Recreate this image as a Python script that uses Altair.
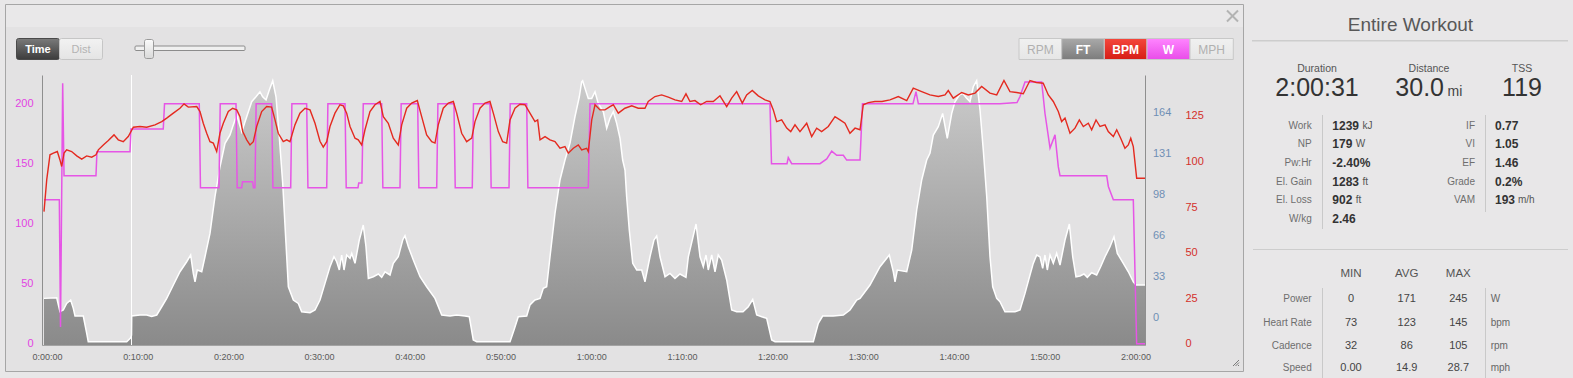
import altair as alt
import pandas as pd

FONT = "Liberation Sans"

# ---------------- data ----------------
# time in minutes
power_t = [0.00, 1.69, 1.82, 2.06, 2.21, 5.73, 5.84, 9.48, 9.59, 13.15, 13.29, 17.12, 17.25, 19.29, 19.43,
           21.17, 21.30, 21.80, 21.89, 22.99, 23.10, 23.26, 23.39, 25.10, 25.24, 27.20, 27.33, 28.96, 29.10,
           31.17, 31.30, 33.19, 33.32, 34.62, 34.70, 35.05, 35.20, 37.23, 37.36, 39.25, 39.38, 41.20, 41.33,
           43.30, 43.43, 45.20, 45.34, 47.22, 47.35, 49.17, 49.30, 51.27, 51.40, 53.22, 53.35, 60.01, 60.20,
           80.04, 80.21, 81.92, 82.06, 82.44, 85.56, 86.30, 86.85, 87.40, 88.13, 88.50, 89.97, 90.24, 95.81,
           96.14, 96.40, 105.40, 107.28, 107.61, 108.16, 110.00, 110.36, 110.92, 111.47, 111.83, 112.02,
           117.17, 117.35, 117.90, 120.10, 120.47, 121.39]
power_w = [120, 120, 14, 217, 140, 140, 160, 160, 179, 179,
           200, 200, 130, 130, 200, 200, 130, 130, 135, 135,
           130, 130, 200, 200, 130, 130, 200, 200, 130, 130,
           200, 200, 130, 130, 134, 134, 200, 200, 130, 130,
           200, 200, 130, 130, 200, 200, 130, 130, 200, 200,
           130, 130, 200, 200, 130, 130, 200, 200, 150, 150,
           155, 150, 150, 154, 160.5, 157, 157, 153, 153, 200,
           200, 210, 200, 200, 201, 206, 218, 218, 192, 163,
           174, 147.5, 140, 140, 131, 120, 120, 0, 0]

hr_t = [0.00, 0.30, 0.66, 1.03, 1.47, 1.76, 1.95, 2.21, 2.50, 3.05,
        3.61, 4.16, 4.71, 5.26, 5.73, 5.99, 6.54, 7.09, 7.72, 8.19,
        8.74, 9.29, 9.85, 10.58, 11.32, 12.24, 12.98, 13.53, 14.26, 14.99,
        15.44, 15.91, 16.84, 17.20, 17.56, 17.94, 18.30, 18.67, 19.04, 19.40,
        19.77, 20.32, 20.80, 21.25, 21.61, 21.91, 22.35, 22.71, 23.08, 23.45,
        24.00, 24.55, 25.10, 25.47, 25.83, 26.38, 26.76, 27.12, 27.67, 28.22,
        28.78, 29.33, 29.88, 30.43, 30.79, 31.17, 31.53, 32.08, 32.63, 33.00,
        33.37, 33.74, 34.29, 34.65, 35.03, 35.39, 35.94, 36.49, 37.05, 37.41,
        37.96, 38.51, 39.06, 39.44, 39.99, 40.54, 41.16, 41.64, 42.19, 42.75,
        43.11, 43.47, 44.02, 44.58, 45.13, 45.50, 46.05, 46.60, 47.16, 47.52,
        48.07, 48.62, 49.17, 49.54, 50.09, 50.57, 51.01, 51.38, 51.93, 52.48,
        53.03, 53.58, 54.13, 54.43, 54.69, 55.24, 55.79, 56.34, 56.89, 57.44,
        57.81, 58.36, 58.91, 59.28, 59.83, 60.01, 60.39, 60.75, 61.30, 61.85,
        62.40, 62.77, 63.32, 64.05, 64.80, 65.52, 66.26, 66.62, 67.36, 68.10,
        68.83, 69.57, 70.31, 70.78, 71.22, 71.77, 72.40, 73.06, 73.79, 74.53,
        75.27, 75.82, 76.37, 76.99, 77.47, 78.09, 78.75, 79.49, 80.04, 80.41,
        80.78, 81.33, 81.89, 82.33, 82.80, 83.35, 84.09, 84.64, 85.19, 85.74,
        86.47, 87.21, 87.76, 88.31, 88.86, 89.42, 89.97, 90.33, 90.88, 91.62,
        92.39, 93.27, 94.19, 95.12, 95.84, 96.77, 97.68, 98.60, 99.34, 99.70,
        100.25, 101.18, 101.91, 102.65, 103.38, 104.30, 105.04, 105.84, 106.50, 107.24,
        107.97, 108.71, 109.40, 110.17, 110.73, 111.28, 111.83, 112.20, 112.57, 113.12,
        113.67, 114.15, 114.59, 115.14, 115.51, 115.99, 116.43, 116.98, 117.34, 117.90,
        118.27, 118.71, 119.18, 119.55, 119.82, 120.10, 120.47, 121.39]
hr_bpm = [72.5, 89.9, 103.6, 104.5, 105.4, 100.8, 97.2, 104.5, 106.3, 105.4,
          103, 101.2, 103, 102.3, 103.6, 106.3, 109, 111.4, 114.5, 111.8,
          110.8, 113.6, 118.7, 119.1, 118.7, 120, 121.8, 123.7, 126.4, 129.1,
          131.5, 129.7, 130, 127.3, 120.9, 115.4, 110.8, 110, 105.4, 115.4,
          120.9, 127.3, 129.1, 128.2, 124.5, 116.3, 111.8, 109, 110.8, 119.1,
          127.3, 130, 129.7, 122.7, 115.4, 110.8, 111.8, 110.8, 120, 126.4,
          129.1, 128.2, 120.9, 111, 107.8, 110.8, 119.1, 126.4, 131, 130.4,
          126.4, 119.1, 112.7, 111.8, 109, 117.3, 127.3, 131, 132.8, 124.5,
          120.9, 112.7, 109, 120, 129.1, 131.9, 133.3, 124.5, 114.5, 110.8,
          110, 120, 129.1, 131.9, 132.8, 126.4, 115.4, 110.8, 112.7, 121.8,
          129.1, 131.9, 132.8, 126.4, 116.3, 110.8, 110, 122.7, 129.1, 131.3,
          131, 126.4, 121.8, 122.7, 111.8, 113.6, 111.8, 110.8, 107.2, 108.1,
          104.5, 107.2, 109, 106.3, 107.2, 105.4, 122.7, 131, 128.2, 128.2,
          130, 131, 126.4, 129.1, 130.4, 129.1, 129.1, 132.8, 135.5, 136.4,
          135.2, 133.7, 132.8, 137, 132.8, 133.3, 131, 132.8, 132.8, 135.9,
          130, 134.6, 138.2, 131.9, 136.4, 138.8, 135.9, 133.7, 132.8, 128.2,
          121.8, 122.7, 118.2, 116.3, 120, 116.3, 120.9, 113.6, 118.2, 116.3,
          119.1, 124.5, 122.7, 120.9, 115.4, 118.2, 117.3, 131, 132.2, 132.8,
          132.8, 133.7, 135.5, 133.3, 140.1, 138.2, 136.4, 135.5, 136.4, 138.8,
          134.6, 137.7, 136.4, 137.4, 141, 137.4, 136.4, 144.3, 138.2, 137.7,
          137, 144.3, 143.2, 142.8, 136.4, 132.8, 127.3, 121.8, 123.7, 115.4,
          118.2, 122.7, 119.1, 120.9, 117.3, 122.7, 119.1, 120, 116.3, 113.6,
          117.3, 112.7, 107.2, 109, 112.7, 108.1, 90.8, 90.8]

elev_t = [0.00, 1.40, 1.76, 2.13, 2.50, 2.94, 3.23, 3.42, 4.33, 4.71,
          4.88, 9.12, 9.56, 9.65, 9.67, 10.58, 11.32, 11.87, 12.43, 12.98,
          13.53, 14.26, 14.99, 15.73, 16.17, 16.46, 16.65, 16.90, 17.39, 17.75,
          18.30, 18.85, 19.40, 19.96, 20.51, 20.80, 21.25, 21.80, 22.35, 22.90,
          23.37, 23.81, 24.11, 24.48, 24.84, 25.22, 25.58, 25.94, 26.32, 26.68,
          26.94, 27.49, 28.04, 28.41, 29.33, 29.88, 30.43, 30.98, 31.53, 31.97,
          32.27, 32.56, 32.82, 33.08, 33.37, 33.74, 33.93, 34.29, 34.76, 35.20,
          35.50, 35.76, 36.31, 36.86, 37.23, 37.60, 38.15, 38.51, 39.06, 39.55,
          39.80, 40.17, 40.72, 41.46, 42.19, 43.11, 43.85, 44.76, 45.50, 46.42,
          46.89, 47.33, 47.71, 51.38, 51.82, 52.29, 53.22, 53.58, 54.13, 54.69,
          55.05, 55.42, 55.79, 56.34, 56.89, 57.44, 57.99, 58.54, 59.02, 59.28,
          59.39, 59.65, 60.01, 60.39, 60.75, 61.11, 61.67, 62.04, 62.40, 62.77,
          63.14, 63.51, 63.80, 64.06, 64.24, 64.53, 64.91, 65.35, 65.90, 66.26,
          66.81, 67.25, 67.55, 67.92, 68.47, 69.02, 69.57, 70.12, 70.78, 71.04,
          71.52, 71.89, 72.33, 72.69, 72.99, 73.24, 73.62, 73.98, 74.34, 74.72,
          75.27, 75.82, 76.37, 77.07, 77.65, 78.14, 78.58, 79.13, 79.68, 80.23,
          80.60, 84.82, 85.37, 85.85, 87.02, 88.13, 88.86, 89.60, 89.97, 91.07,
          92.17, 93.20, 93.64, 93.83, 94.08, 95.12, 95.67, 96.22, 96.77, 97.32,
          97.68, 98.05, 98.60, 99.08, 99.59, 100.08, 100.44, 100.92, 101.29, 101.73,
          102.09, 102.46, 102.83, 103.20, 103.56, 103.94, 104.30, 104.60, 105.04, 105.40,
          105.95, 107.06, 107.61, 108.16, 108.71, 109.07, 109.45, 109.81, 110.11, 110.36,
          110.62, 110.92, 111.28, 111.65, 112.02, 112.57, 113.05, 113.42, 113.78, 114.22,
          114.66, 115.03, 115.51, 116.06, 116.50, 116.98, 117.53, 117.97, 118.34, 119.00,
          119.55, 120.10, 120.40, 121.39]
elev_ft = [15.5, 16, 4.8, 6.2, 11.5, 14.2, 7.5, 1.4, 1.4, -12.5,
           -19.2, -19.2, -16, -14, 1.4, 2.2, 2.2, 1.0, 2.2, 8.8,
           15.5, 26.2, 36.8, 44.8, 50.2, 35.5, 28.8, 38.2, 36.8, 48.8,
           67.5, 96.8, 120.8, 139.5, 146.2, 152.8, 162.2, 148.8, 160.8, 172.8,
           176.8, 180.8, 176.8, 174.2, 182.2, 189.6, 176.8, 144.8, 107.5, 59.5,
           24.8, 14.2, 11.5, 4.8, 4.0, 6.2, 14.2, 27.5, 40.8, 48.8,
           44.8, 38.2, 50.2, 38.2, 50.2, 47.5, 51.5, 43.5, 62.2, 74.2,
           56.8, 31.5, 32.8, 35.0, 32.3, 36.8, 34.2, 43.5, 48.8, 62.2,
           65.6, 56.8, 46.2, 32.8, 24.8, 15.5, 2.2, 1.4, 2.2, 1.4,
           0.8, -17.8, -19.2, -19.2, -9.8, 0.8, 1.4, 10.2, 14.2, 15.5,
           23.5, 24.8, 48.8, 83.5, 110.2, 126.2, 139.5, 160.8, 176.8, 188.8,
           189.6, 183.5, 175.5, 175.5, 180.8, 171.5, 164.8, 151.5, 159.5, 164.8,
           155.5, 143.5, 126.2, 118.2, 96.8, 70.2, 43.5, 38.2, 38.2, 28.8,
           48.8, 62.2, 65.4, 48.8, 32.8, 35.5, 31.5, 35.0, 32.3, 48.8,
           63.5, 75.0, 48.8, 40.8, 50.2, 38.2, 50.2, 36.8, 50.2, 46.2,
           30.2, 6.2, 4.8, 4.8, 8.8, 14.7, 2.2, 0.8, -0.5, -17.8,
           -19.2, -19.2, -4.5, 1.4, 1.4, 2.2, 6.2, 14.2, 15.5, 26.2,
           40.8, 50.2, 36.8, 28.8, 38.2, 36.8, 54.2, 86.2, 110.2, 126.2,
           131.5, 146.2, 152.8, 163.5, 143.5, 163.5, 172.8, 178.2, 179.5, 175.5,
           172.8, 184.8, 189.6, 166.2, 134.2, 96.8, 48.8, 24.8, 15.5, 12.8,
           4.8, 4.8, 6.2, 19.5, 34.2, 43.5, 50.2, 48.8, 39.5, 50.2,
           38.2, 50.2, 43.5, 51.5, 42.2, 62.2, 75.0, 48.8, 32.8, 33.4,
           35.0, 32.3, 36.0, 34.2, 40.8, 48.8, 56.8, 64.8, 51.5, 43.5,
           36.8, 28.8, 26.2, 26.2]

lap_marker_t = [9.65]

time_ticks = [0, 10, 20, 30, 40, 50, 60, 70, 80, 90, 100, 110, 120]
power_ticks = [0, 50, 100, 150, 200]
elev_ticks = [0, 32.8, 65.6, 98.4, 131.2, 164]
hr_ticks = [0, 25, 50, 75, 100, 125]

X_DOMAIN = [-0.22, 121.39]
W_DOMAIN = [-1.1, 223.9]
FT_DOMAIN = [-21.8, 194.2]
HR_DOMAIN = [-0.55, 147.3]

mode_buttons = ["Time", "Dist"]
series_buttons = ["RPM", "FT", "BPM", "W", "MPH"]
panel_title = "Entire Workout"
summary_labels = ["Duration", "Distance", "TSS"]
summary_values = ["2:00:31", "30.0", "119"]
summary_units = ["", "mi", ""]
left_stat_labels = ["Work", "NP", "Pw:Hr", "El. Gain", "El. Loss", "W/kg"]
left_stat_values = ["1239", "179", "-2.40%", "1283", "902", "2.46"]
left_stat_units = ["kJ", "W", "", "ft", "ft", ""]
right_stat_labels = ["IF", "VI", "EF", "Grade", "VAM"]
right_stat_values = ["0.77", "1.05", "1.46", "0.2%", "193"]
right_stat_units = ["", "", "", "", "m/h"]
table_cols = ["MIN", "AVG", "MAX"]
table_rows = ["Power", "Heart Rate", "Cadence", "Speed"]
table_min = ["0", "73", "32", "0.00"]
table_avg = ["171", "123", "86", "14.9"]
table_max = ["245", "145", "105", "28.7"]
table_units = ["W", "bpm", "rpm", "mph"]

# ---------------- helpers for the surrounding UI ----------------
OX, OY = 42, 75          # plot origin on the page
PLOT_W, PLOT_H = 1103, 270
ONE = alt.InlineData(values=[{"k": 0}])


def grad(top, bottom):
    return {"gradient": "linear", "x1": 0, "x2": 0, "y1": 0, "y2": 1,
            "stops": [{"offset": 0, "color": top}, {"offset": 1, "color": bottom}]}


def box(x1, y1, x2, y2, fill, stroke=None, radius=0, sw=1):
    kw = {"fill": fill, "cornerRadius": radius}
    if stroke:
        kw.update(stroke=stroke, strokeWidth=sw)
    return alt.Chart(ONE).mark_rect(**kw).encode(
        x=alt.value(x1 - OX), x2=alt.value(x2 - OX),
        y=alt.value(y1 - OY), y2=alt.value(y2 - OY))


def seg(x1, y1, x2, y2, color, sw=1):
    return alt.Chart(ONE).mark_rule(color=color, strokeWidth=sw).encode(
        x=alt.value(x1 - OX), x2=alt.value(x2 - OX),
        y=alt.value(y1 - OY), y2=alt.value(y2 - OY))


def label(s, x, y, size, color, align="left", weight="normal", baseline="middle"):
    return alt.Chart(ONE).mark_text(text=s, fontSize=size, color=color, align=align,
                                    fontWeight=weight, baseline=baseline, font=FONT).encode(
        x=alt.value(x - OX), y=alt.value(y - OY))


BOLD_W = {".": 0.278, "-": 0.333, "%": 0.889}


def bold_width(s, size):
    return sum(BOLD_W.get(c, 0.556) for c in s) * size


ui = []
# chart panel
ui.append(box(5.5, 4.5, 1243.5, 371.5, "#e3e2e3", "#a6a6a6"))
ui.append(box(6, 5, 1243, 27, "#e9e8e9"))
ui.append(seg(1227, 10.5, 1238, 21.5, "#b3b3b3", 2))
ui.append(seg(1238, 10.5, 1227, 21.5, "#b3b3b3", 2))
# Time / Dist toggle
ui.append(box(16.5, 38.5, 59.5, 59.5, grad("#7a7a7a", "#3c3c3c"), "#4a4a4a", 2))
ui.append(box(59.5, 38.5, 102.5, 59.5, grad("#f2f2f2", "#e4e4e4"), "#c6c6c6", 2))
ui.append(label(mode_buttons[0], 38, 49.5, 11, "#ffffff", "center", "bold"))
ui.append(label(mode_buttons[1], 81, 49.5, 11, "#b3b3b3", "center"))
# zoom slider
ui.append(box(135, 46, 245, 50.5, "#f0f0f0", "#8c8c8c", 1))
ui.append(box(144.5, 39.5, 153.5, 58.5, grad("#fbfbfb", "#d9d9d9"), "#9a9a9a", 2))
# series buttons
edges = [1019, 1061.7, 1104.3, 1147, 1190, 1233.3]
fills = [grad("#f0f0f0", "#e6e6e6"), grad("#a9a9a9", "#7c7c7c"), grad("#f4473c", "#d61d15"),
         grad("#ff85ff", "#e94ce9"), grad("#f0f0f0", "#e6e6e6")]
tcolors = ["#b0b0b0", "#ffffff", "#ffffff", "#ffffff", "#b0b0b0"]
tweights = ["normal", "bold", "bold", "bold", "normal"]
for i, name in enumerate(series_buttons):
    ui.append(box(edges[i], 38.5, edges[i + 1], 59.5, fills[i], "#c8c8c8"))
    ui.append(label(name, (edges[i] + edges[i + 1]) / 2, 49.5, 12, tcolors[i], "center", tweights[i]))
# resize grip
ui.append(seg(1233, 366, 1239, 360, "#7a7a7a"))
ui.append(seg(1235.5, 366, 1239, 362.5, "#7a7a7a"))
ui.append(seg(1238, 366, 1239, 365, "#7a7a7a"))

# right summary panel
ui.append(label(panel_title, 1410.5, 31, 19, "#585858", "center", baseline="alphabetic"))
ui.append(seg(1252, 40.5, 1568, 40.5, "#cdcdcd"))
ui.append(seg(1252, 41.5, 1568, 41.5, "#dadada"))
centers = [1317, 1429, 1522]
for i, name in enumerate(summary_labels):
    ui.append(label(name, centers[i], 69, 10.5, "#555555", "center"))
    if summary_units[i]:
        ui.append(label(summary_values[i], centers[i] + 15, 95.7, 25, "#333333", "right", baseline="alphabetic"))
        ui.append(label(summary_units[i], centers[i] + 18.5, 95.7, 14, "#444444", "left", baseline="alphabetic"))
    else:
        ui.append(label(summary_values[i], centers[i], 95.7, 25, "#333333", "center", baseline="alphabetic"))

row_y = [125.7 + 18.65 * i for i in range(6)]
for i, name in enumerate(left_stat_labels):
    ui.append(label(name, 1311.7, row_y[i], 10, "#6e6e6e", "right"))
    ui.append(label(left_stat_values[i], 1332.3, row_y[i], 12, "#333333", "left", "bold"))
    if left_stat_units[i]:
        ui.append(label(left_stat_units[i], 1332.3 + bold_width(left_stat_values[i], 12) + 3.5,
                        row_y[i], 10, "#555555"))
for i, name in enumerate(right_stat_labels):
    ui.append(label(name, 1475, row_y[i], 10, "#6e6e6e", "right"))
    ui.append(label(right_stat_values[i], 1495, row_y[i], 12, "#333333", "left", "bold"))
    if right_stat_units[i]:
        ui.append(label(right_stat_units[i], 1495 + bold_width(right_stat_values[i], 12) + 3,
                        row_y[i], 10, "#555555"))
ui.append(seg(1322.5, 115, 1322.5, 229, "#c9c9c9"))
ui.append(seg(1485.5, 115, 1485.5, 212, "#c9c9c9"))

ui.append(seg(1253, 249.5, 1568, 249.5, "#cdcdcd"))
col_x = [1351, 1406.7, 1458.3]
for j, c in enumerate(table_cols):
    ui.append(label(c, col_x[j], 274.3, 11.5, "#555555", "center"))
trow_y = [299.3, 322.5, 345.5, 367.7]
for i, name in enumerate(table_rows):
    ui.append(label(name, 1311.7, trow_y[i], 10, "#6e6e6e", "right"))
    for j, vals in enumerate([table_min, table_avg, table_max]):
        ui.append(label(vals[i], col_x[j], trow_y[i], 11, "#444444", "center"))
    ui.append(label(table_units[i], 1490.7, trow_y[i], 10, "#666666"))
ui.append(seg(1322.5, 288, 1322.5, 378, "#c9c9c9"))
ui.append(seg(1485.5, 288, 1485.5, 378, "#c9c9c9"))

# ---------------- the workout chart ----------------
power_df = pd.DataFrame({"t": power_t, "w": power_w})
hr_df = pd.DataFrame({"t": hr_t, "bpm": hr_bpm})
elev_df = pd.DataFrame({"t": elev_t, "ft": elev_ft})
lap_df = pd.DataFrame({"t": lap_marker_t})

time_expr = ("floor(datum.value / 60) + ':' + (datum.value % 60 < 10 ? '0' : '') + "
             "(datum.value % 60) + ':00'")
x_enc = alt.X("t:Q", scale=alt.Scale(domain=X_DOMAIN, nice=False, zero=False),
              axis=alt.Axis(values=time_ticks, labelExpr=time_expr, title=None, grid=False,
                            ticks=False, tickSize=0, labelPadding=7, labelFontSize=9,
                            labelColor="#5a5a5a", labelOffset=3, labelFlush=False,
                            labelOverlap=False, domainColor="#a3a3a3", zindex=1))

ft_scale = alt.Scale(domain=FT_DOMAIN, nice=False, zero=False)
elev_area = alt.Chart(elev_df).mark_area(color=grad("#cbcbcb", "#8a8a8a"), interpolate="linear").encode(
    x=x_enc,
    y=alt.Y("ft:Q", scale=ft_scale,
            axis=alt.Axis(orient="right", values=elev_ticks, format=".0f", title=None, grid=False,
                          ticks=False, tickSize=0, labelPadding=7.5, labelFontSize=11,
                          labelColor="#6f8fb5", domainColor="#8f8f8f", zindex=1)),
    y2=alt.Y2Datum(FT_DOMAIN[0]),
)
elev_line = alt.Chart(elev_df).mark_line(color="#ffffff", strokeWidth=1.5).encode(
    x=x_enc, y=alt.Y("ft:Q", scale=ft_scale, axis=None))

lap_rule = alt.Chart(lap_df).mark_rule(color="#ffffff", strokeWidth=1).encode(x=x_enc)

power_line = alt.Chart(power_df).mark_line(color="#e655e6", strokeWidth=1.5).encode(
    x=x_enc,
    y=alt.Y("w:Q", scale=alt.Scale(domain=W_DOMAIN, nice=False, zero=False),
            axis=alt.Axis(orient="left", values=power_ticks, title=None, grid=False, ticks=False,
                          tickSize=0, labelPadding=9, labelFontSize=11, labelColor="#e244e2",
                          domainColor="#8f8f8f", zindex=1)),
)
hr_line = alt.Chart(hr_df).mark_line(color="#e42a20", strokeWidth=1.4).encode(
    x=x_enc,
    y=alt.Y("bpm:Q", scale=alt.Scale(domain=HR_DOMAIN, nice=False, zero=False),
            axis=alt.Axis(orient="right", offset=33, values=hr_ticks, title=None, grid=False,
                          ticks=False, tickSize=0, labelPadding=7, labelFontSize=11,
                          labelColor="#d4302b", domain=False, zindex=1)),
)

chart = alt.layer(*ui, elev_area, elev_line, lap_rule, power_line, hr_line).resolve_scale(
    y="independent"
).properties(
    width=PLOT_W, height=PLOT_H,
    autosize=alt.AutoSizeParams(type="none"),
    padding={"left": OX, "top": OY, "right": 1573 - OX - PLOT_W, "bottom": 378 - OY - PLOT_H},
    background="#e8e7e8",
).configure_view(stroke=None).configure_axis(labelFont=FONT)

chart.save("out.html", embed_options={"renderer": "svg", "actions": False})
